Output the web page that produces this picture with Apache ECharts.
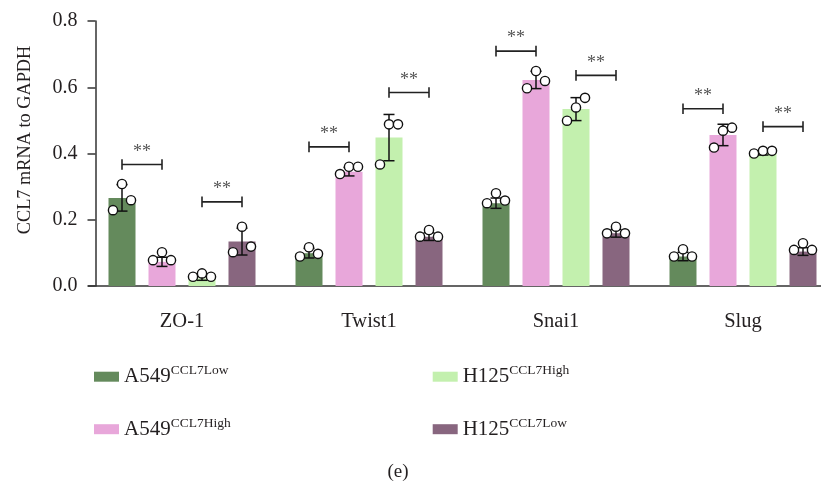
<!DOCTYPE html>
<html>
<head>
<meta charset="utf-8">
<script src="https://cdn.jsdelivr.net/npm/echarts@6/dist/echarts.min.js"></script>
<style>html,body{margin:0;padding:0;background:#fff;overflow:hidden;width:821px;height:481px;}#c{width:840px;height:481px;}</style>
</head>
<body>
<div id="c"></div>
<script>
const categories = ['ZO-1', 'Twist1', 'Snai1', 'Slug'];
const seriesNames = ['A549 CCL7Low', 'A549 CCL7High', 'H125 CCL7High', 'H125 CCL7Low'];
const legendBase = ['A549', 'A549', 'H125', 'H125'];
const legendSup = ['CCL7Low', 'CCL7High', 'CCL7High', 'CCL7Low'];
const yTicks = [0, 0.2, 0.4, 0.6, 0.8];

const a549Low  = [0.266, 0.099, 0.250, 0.089];
const a549High = [0.073, 0.345, 0.622, 0.456];
const h125High = [0.023, 0.448, 0.534, 0.400];
const h125Low  = [0.134, 0.149, 0.159, 0.104];

const a549LowDots  = [[0.229, 0.308, 0.259], [0.089, 0.117, 0.097], [0.250, 0.280, 0.258], [0.089, 0.111, 0.089]];
const a549HighDots = [[0.078, 0.102, 0.078], [0.338, 0.360, 0.360], [0.597, 0.649, 0.619], [0.418, 0.469, 0.478]];
const h125HighDots = [[0.028, 0.038, 0.028], [0.367, 0.488, 0.488], [0.499, 0.539, 0.568], [0.400, 0.408, 0.408]];
const h125LowDots  = [[0.102, 0.179, 0.119], [0.149, 0.169, 0.149], [0.159, 0.179, 0.159], [0.109, 0.129, 0.109]];

// significance bracket heights: left pair (A549 Low vs High), right pair (H125 High vs Low)
const sigLeft  = [0.367, 0.420, 0.709, 0.535];
const sigRight = [0.254, 0.584, 0.636, 0.481];
const sigText = '**';

const colors = ['#648a5c', '#e8a7da', '#c3f0ae', '#88667f'];
const FONT = 'Liberation Serif';
const BAR_W = 27, BAR_GAP = 13, STEP = BAR_W + BAR_GAP;
const JITTER = [-9, 0, 9];

const means = [a549Low, a549High, h125High, h125Low];
const dots = [a549LowDots, a549HighDots, h125HighDots, h125LowDots];

function barSeries(s) {
  return {
    type: 'bar', name: seriesNames[s], data: means[s],
    barWidth: BAR_W, barGap: (BAR_GAP / BAR_W * 100) + '%',
    itemStyle: { color: colors[s] }, z: 2
  };
}

function dotSeries(s) {
  return {
    type: 'custom', z: 5, silent: true,
    data: categories.map((c, i) => [i, means[s][i]].concat(dots[s][i])),
    renderItem: function (params, api) {
      const i = api.value(0), m = api.value(1);
      const pts = [api.value(2), api.value(3), api.value(4)];
      const mu = (pts[0] + pts[1] + pts[2]) / 3;
      const sd = Math.sqrt(pts.reduce((a, p) => a + (p - mu) * (p - mu), 0) / (pts.length - 1));
      const cx = api.coord([i, m])[0] + (s - 1.5) * STEP;
      const yT = api.coord([i, m + sd])[1], yB = api.coord([i, Math.max(0, m - sd)])[1];
      const ls = { stroke: '#111', lineWidth: 1.5 };
      const children = [
        { type: 'line', shape: { x1: cx, y1: yT, x2: cx, y2: yB }, style: ls },
        { type: 'line', shape: { x1: cx - 5.5, y1: yT, x2: cx + 5.5, y2: yT }, style: ls },
        { type: 'line', shape: { x1: cx - 5.5, y1: yB, x2: cx + 5.5, y2: yB }, style: ls }
      ];
      pts.forEach((p, k) => {
        children.push({ type: 'circle', shape: { cx: cx + JITTER[k], cy: api.coord([i, p])[1], r: 4.6 },
          style: { fill: '#fff', stroke: '#111', lineWidth: 1.4 } });
      });
      return { type: 'group', children: children };
    }
  };
}

const sigSeries = {
  type: 'custom', z: 6, silent: true,
  data: categories.map((c, i) => [i, sigLeft[i], sigRight[i]]),
  renderItem: function (params, api) {
    const i = api.value(0);
    const cx = api.coord([i, 0])[0];
    const children = [];
    [[api.value(1), -1.5, -0.5], [api.value(2), 0.5, 1.5]].forEach(([v, a, b]) => {
      const y = api.coord([i, v])[1];
      const x1 = cx + a * STEP, x2 = cx + b * STEP;
      const ls = { stroke: '#222', lineWidth: 1.6 };
      children.push({ type: 'line', shape: { x1: x1, y1: y, x2: x2, y2: y }, style: ls });
      children.push({ type: 'line', shape: { x1: x1, y1: y - 5.3, x2: x1, y2: y + 5.3 }, style: ls });
      children.push({ type: 'line', shape: { x1: x2, y1: y - 5.3, x2: x2, y2: y + 5.3 }, style: ls });
      children.push({ type: 'text', style: { x: (x1 + x2) / 2, y: y - 3.5, text: sigText, fill: '#555',
        font: '18px "' + FONT + '"', align: 'center', verticalAlign: 'bottom' } });
    });
    return { type: 'group', children: children };
  }
};

function legendFmt(name) {
  const k = seriesNames.indexOf(name);
  return '{a|' + legendBase[k] + '}{s|' + legendSup[k] + '}';
}
const legendText = {
  rich: {
    a: { fontFamily: FONT, fontSize: 21, lineHeight: 26, color: '#231f20' },
    s: { fontFamily: FONT, fontSize: 13.5, lineHeight: 15, verticalAlign: 'top', color: '#231f20' }
  }
};
function mkLegend(names, left) {
  return {
    data: names, orient: 'vertical', left: left, top: 363.7, padding: 0, itemGap: 29,
    icon: 'rect', itemWidth: 25, itemHeight: 10, selectedMode: false,
    formatter: legendFmt, textStyle: legendText
  };
}

const chart = echarts.init(document.getElementById('c'), null, { renderer: 'canvas' });
chart.setOption({
  animation: false,
  backgroundColor: '#fff',
  grid: { left: 88.5, top: 21, width: 748, height: 265 },
  legend: [mkLegend([seriesNames[0], seriesNames[1]], 94), mkLegend([seriesNames[2], seriesNames[3]], 432.7)],
  xAxis: {
    type: 'category', data: categories,
    axisLine: { lineStyle: { color: '#333', width: 1.5 } },
    axisTick: { alignWithLabel: true, length: 7, lineStyle: { color: '#333', width: 1.5 } },
    axisLabel: { fontFamily: FONT, fontSize: 20.5, color: '#231f20', margin: 25 }
  },
  yAxis: {
    type: 'value', min: 0, max: 0.8, interval: 0.2, offset: -7,
    axisLine: { show: true, lineStyle: { color: '#333', width: 1.5 } },
    axisTick: { show: true, length: 8, lineStyle: { color: '#333', width: 1.5 } },
    splitLine: { show: false },
    axisLabel: { fontFamily: FONT, fontSize: 20, color: '#231f20', margin: 18,
      formatter: v => yTicks.includes(Math.round(v * 10) / 10) ? v.toFixed(1) : '' }
  },
  graphic: [
    { type: 'text', x: 25, y: 140, rotation: Math.PI / 2,
      style: { text: 'CCL7 mRNA to GAPDH', font: '18.3px "' + FONT + '"', fill: '#231f20', align: 'center', verticalAlign: 'middle' } },
    { type: 'text', x: 398, y: 472,
      style: { text: '(e)', font: '19px "' + FONT + '"', fill: '#231f20', align: 'center', verticalAlign: 'middle' } }
  ],
  series: [barSeries(0), barSeries(1), barSeries(2), barSeries(3),
    dotSeries(0), dotSeries(1), dotSeries(2), dotSeries(3), sigSeries]
});
</script>
</body>
</html>
